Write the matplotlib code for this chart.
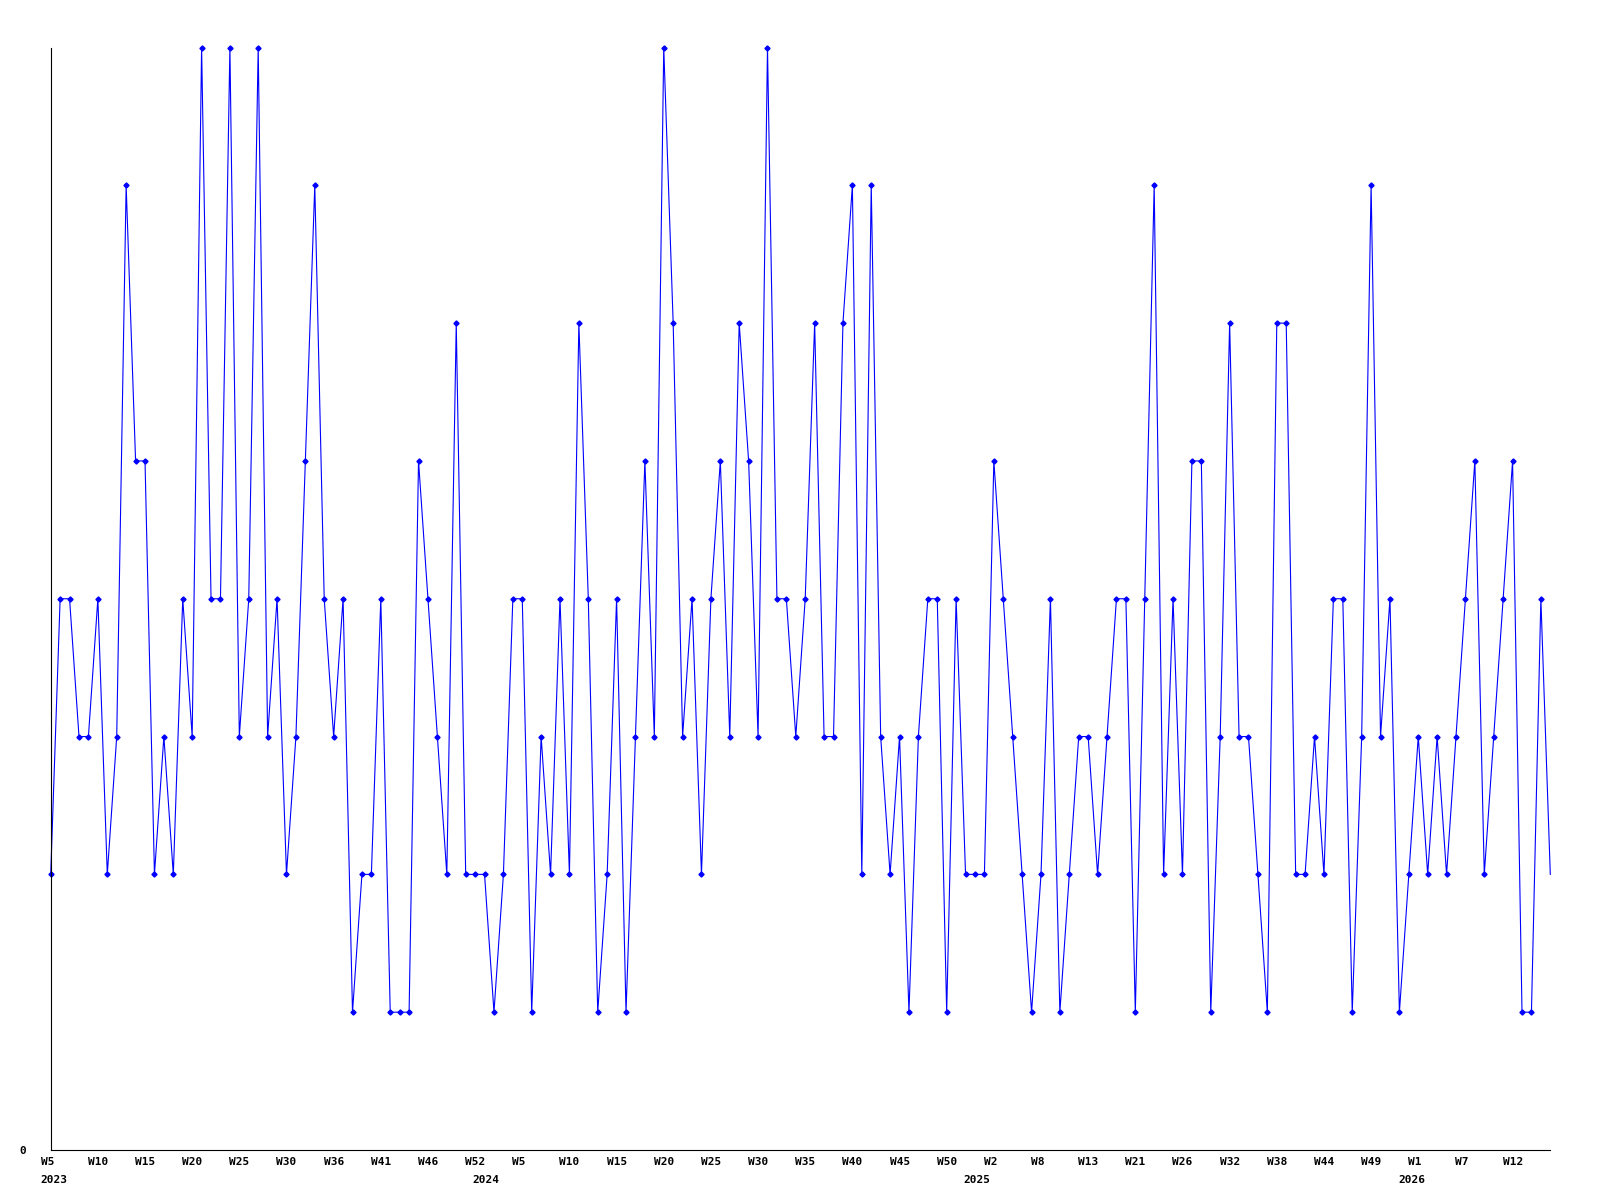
import matplotlib
matplotlib.use("Agg")
import matplotlib.pyplot as plt
import matplotlib.transforms as mtransforms

# weekly values (one point per week)
values = [2, 4, 4, 3, 3, 4, 2, 3, 7, 5,
          5, 2, 3, 2, 4, 3, 8, 4, 4, 8,
          3, 4, 8, 3, 4, 2, 3, 5, 7, 4,
          3, 4, 1, 2, 2, 4, 1, 1, 1, 5,
          4, 3, 2, 6, 2, 2, 2, 1, 2, 4,
          4, 1, 3, 2, 4, 2, 6, 4, 1, 2,
          4, 1, 3, 5, 3, 8, 6, 3, 4, 2,
          4, 5, 3, 6, 5, 3, 8, 4, 4, 3,
          4, 6, 3, 3, 6, 7, 2, 7, 3, 2,
          3, 1, 3, 4, 4, 1, 4, 2, 2, 2,
          5, 4, 3, 2, 1, 2, 4, 1, 2, 3,
          3, 2, 3, 4, 4, 1, 4, 7, 2, 4,
          2, 5, 5, 1, 3, 6, 3, 3, 2, 1,
          6, 6, 2, 2, 3, 2, 4, 4, 1, 3,
          7, 3, 4, 1, 2, 3, 2, 3, 2, 3,
          4, 5, 2, 3, 4, 5, 1, 1, 4, 2]

week_labels = ["W5", "W10", "W15", "W20", "W25", "W30", "W36", "W41", "W46", "W52",
               "W5", "W10", "W15", "W20", "W25", "W30", "W35", "W40", "W45", "W50",
               "W2", "W8", "W13", "W21", "W26", "W32", "W38", "W44", "W49",
               "W1", "W7", "W12"]
week_ticks = list(range(0, 5 * len(week_labels), 5))

years = ["2023", "2024", "2025", "2026"]
year_pos = [0, 45.8, 97.8, 143.9]

plt.rcParams['font.family'] = ['DejaVu Sans Mono']
plt.rcParams['font.weight'] = 'bold'

fig = plt.figure(figsize=(16, 12), dpi=100)
ax = fig.add_axes([50.7 / 1600, 50 / 1200, 1499.6 / 1600, 1102.5 / 1200])

x = list(range(len(values)))
ax.plot(x, values, color=(0, 0, 1), lw=0.8, marker='D', markersize=2.6,
        markevery=list(range(len(values) - 1)), clip_on=False)

ax.set_xlim(0, len(values) - 1)
ax.set_ylim(0, 8)

for s in ['top', 'right']:
    ax.spines[s].set_visible(False)
for s in ['left', 'bottom']:
    ax.spines[s].set_linewidth(0.8)
    ax.spines[s].set_color('black')

ax.set_yticks([0])
ax.set_yticklabels(["0"])
ax.tick_params(axis='y', length=0, pad=17.5, labelsize=8)

ax.set_xticks(week_ticks)
ax.set_xticklabels(week_labels)
ax.tick_params(axis='x', length=0, pad=5, labelsize=8)
shift = mtransforms.ScaledTranslation(-10 / 100, 0, fig.dpi_scale_trans)
for lab in ax.get_xticklabels():
    lab.set_horizontalalignment('left')
    lab.set_transform(lab.get_transform() + shift)

for yr, p in zip(years, year_pos):
    ax.annotate(yr, xy=(p, 0), xycoords=('data', 'axes fraction'),
                xytext=(-10, -25), textcoords='offset pixels',
                ha='left', va='top', fontsize=8, fontweight='bold')

fig.savefig("out.png", dpi=100)
